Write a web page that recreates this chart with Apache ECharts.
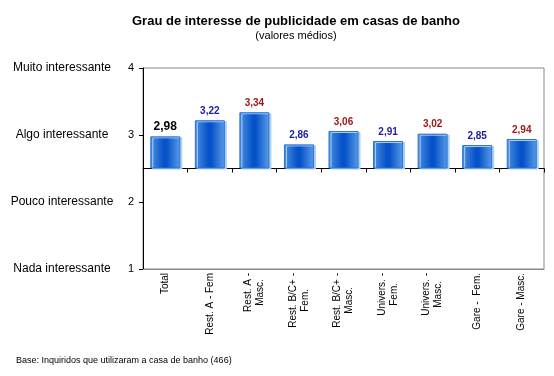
<!DOCTYPE html>
<html>
<head>
<meta charset="utf-8">
<script src="https://cdn.jsdelivr.net/npm/echarts@6/dist/echarts.min.js"></script>
<style>
  html, body { margin: 0; padding: 0; background: #fff; }
  #chart { width: 554px; height: 376px; }
</style>
</head>
<body>
<div id="chart"></div>
<script>
var categories = ['Total', 'Rest. A - Fem', 'Rest. A -\nMasc.', 'Rest. B/C+ -\nFem.', 'Rest. B/C+ -\nMasc.',
  'Univers. -\nFem.', 'Univers. -\nMasc.', 'Gare -  Fem.', 'Gare - Masc.'];
var values = [2.98, 3.22, 3.34, 2.86, 3.06, 2.91, 3.02, 2.85, 2.94];
var labelColors = ['#000000', '#1c1ca0', '#a01818', '#1c1ca0', '#a01818', '#1c1ca0', '#a01818', '#1c1ca0', '#a01818'];
var scaleTicks = [1, 2, 3, 4];
var scaleNames = ['Nada interessante', 'Pouco interessante', 'Algo interessante', 'Muito interessante'];

var FONT = '"Liberation Sans", Arial, sans-serif';

function scaleName(v) {
  var i = scaleTicks.indexOf(v);
  return i >= 0 ? scaleNames[i] : '';
}

// centre each line of the rotated category labels
function catLabel(name) {
  return name.split('\n').map(function (s) { return '{c|' + s + '}'; }).join('\n');
}

var barData = values.map(function (v, i) {
  return {
    value: v,
    label: {
      color: labelColors[i],
      fontSize: i === 0 ? 12 : 10,
      fontWeight: 'bold'
    }
  };
});

var barColor = new echarts.graphic.LinearGradient(0, 0, 1, 0, [
  { offset: 0, color: '#4d8fe0' },
  { offset: 0.45, color: '#0653c9' },
  { offset: 0.55, color: '#0653c9' },
  { offset: 1, color: '#5a9ce6' }
]);

var upper = scaleTicks.filter(function (v) { return v > 2.5; });
var lower = scaleTicks.filter(function (v) { return v < 2.5; });

var myChart = echarts.init(document.getElementById('chart'));
var option = {
  animation: false,
  title: {
    text: 'Grau de interesse de publicidade em casas de banho',
    subtext: '(valores médios)',
    left: 291,
    textAlign: 'center',
    top: 10,
    itemGap: 2,
    textStyle: { fontFamily: FONT, fontSize: 13, fontWeight: 'bold', color: '#000' },
    subtextStyle: { fontFamily: FONT, fontSize: 11, color: '#000' }
  },
  graphic: [{
    type: 'text',
    left: 16,
    top: 356,
    style: { text: 'Base: Inquiridos que utilizaram a casa de banho (466)', font: '9px ' + FONT, fill: '#000' }
  }],
  grid: [
    { left: 143, right: 10, top: 68, height: 100.5, show: true, borderColor: '#888', borderWidth: 1 },
    { left: 143, right: 10, top: 168.5, height: 100.5, show: true, borderColor: '#888', borderWidth: 1 }
  ],
  xAxis: [
    {
      gridIndex: 0, type: 'category', data: categories, position: 'bottom',
      axisLine: { lineStyle: { color: '#000' } },
      axisTick: { show: true, interval: 0, length: 4, lineStyle: { color: '#000' } },
      axisLabel: { show: false }
    },
    {
      gridIndex: 1, type: 'category', data: categories, position: 'bottom',
      axisLine: { lineStyle: { color: '#888' } },
      axisTick: { show: false },
      axisLabel: {
        rotate: 90, interval: 0, margin: 4, formatter: catLabel,
        rich: { c: { align: 'center', fontFamily: FONT, fontSize: 10, color: '#000', lineHeight: 12 } }
      }
    }
  ],
  yAxis: [
    {
      gridIndex: 0, type: 'value', min: 2.5, max: 4, startValue: 2.5,
      axisLine: { show: true, lineStyle: { color: '#000' } },
      axisTick: { show: true, length: 4, customValues: upper, lineStyle: { color: '#000' } },
      axisLabel: { customValues: upper, margin: 9, fontFamily: FONT, fontSize: 11, color: '#000' },
      splitLine: { show: false }
    },
    {
      gridIndex: 0, type: 'value', min: 2.5, max: 4, position: 'left',
      axisLine: { show: false }, axisTick: { show: false },
      axisLabel: { customValues: upper, margin: 81, align: 'center', formatter: scaleName, fontFamily: FONT, fontSize: 12, color: '#000' },
      splitLine: { show: false }
    },
    {
      gridIndex: 1, type: 'value', min: 1, max: 2.5,
      axisLine: { show: true, lineStyle: { color: '#000' } },
      axisTick: { show: true, length: 4, customValues: lower, lineStyle: { color: '#000' } },
      axisLabel: { customValues: lower, margin: 9, fontFamily: FONT, fontSize: 11, color: '#000' },
      splitLine: { show: false }
    },
    {
      gridIndex: 1, type: 'value', min: 1, max: 2.5, position: 'left',
      axisLine: { show: false }, axisTick: { show: false },
      axisLabel: { customValues: lower, margin: 81, align: 'center', formatter: scaleName, fontFamily: FONT, fontSize: 12, color: '#000' },
      splitLine: { show: false }
    }
  ],
  series: [{
    type: 'bar',
    xAxisIndex: 0,
    yAxisIndex: 0,
    data: barData,
    barWidth: 30,
    clip: true,
    itemStyle: {
      color: barColor,
      borderColor: '#2f72d4',
      borderWidth: 1,
      shadowColor: '#a9d0fa',
      shadowBlur: 0,
      shadowOffsetX: 2,
      shadowOffsetY: 1
    },
    label: {
      show: true,
      position: 'top',
      distance: 4,
      fontFamily: FONT,
      formatter: function (p) { return p.value.toFixed(2).replace('.', ','); }
    }
  }]
};
option && myChart.setOption(option);
</script>
</body>
</html>
